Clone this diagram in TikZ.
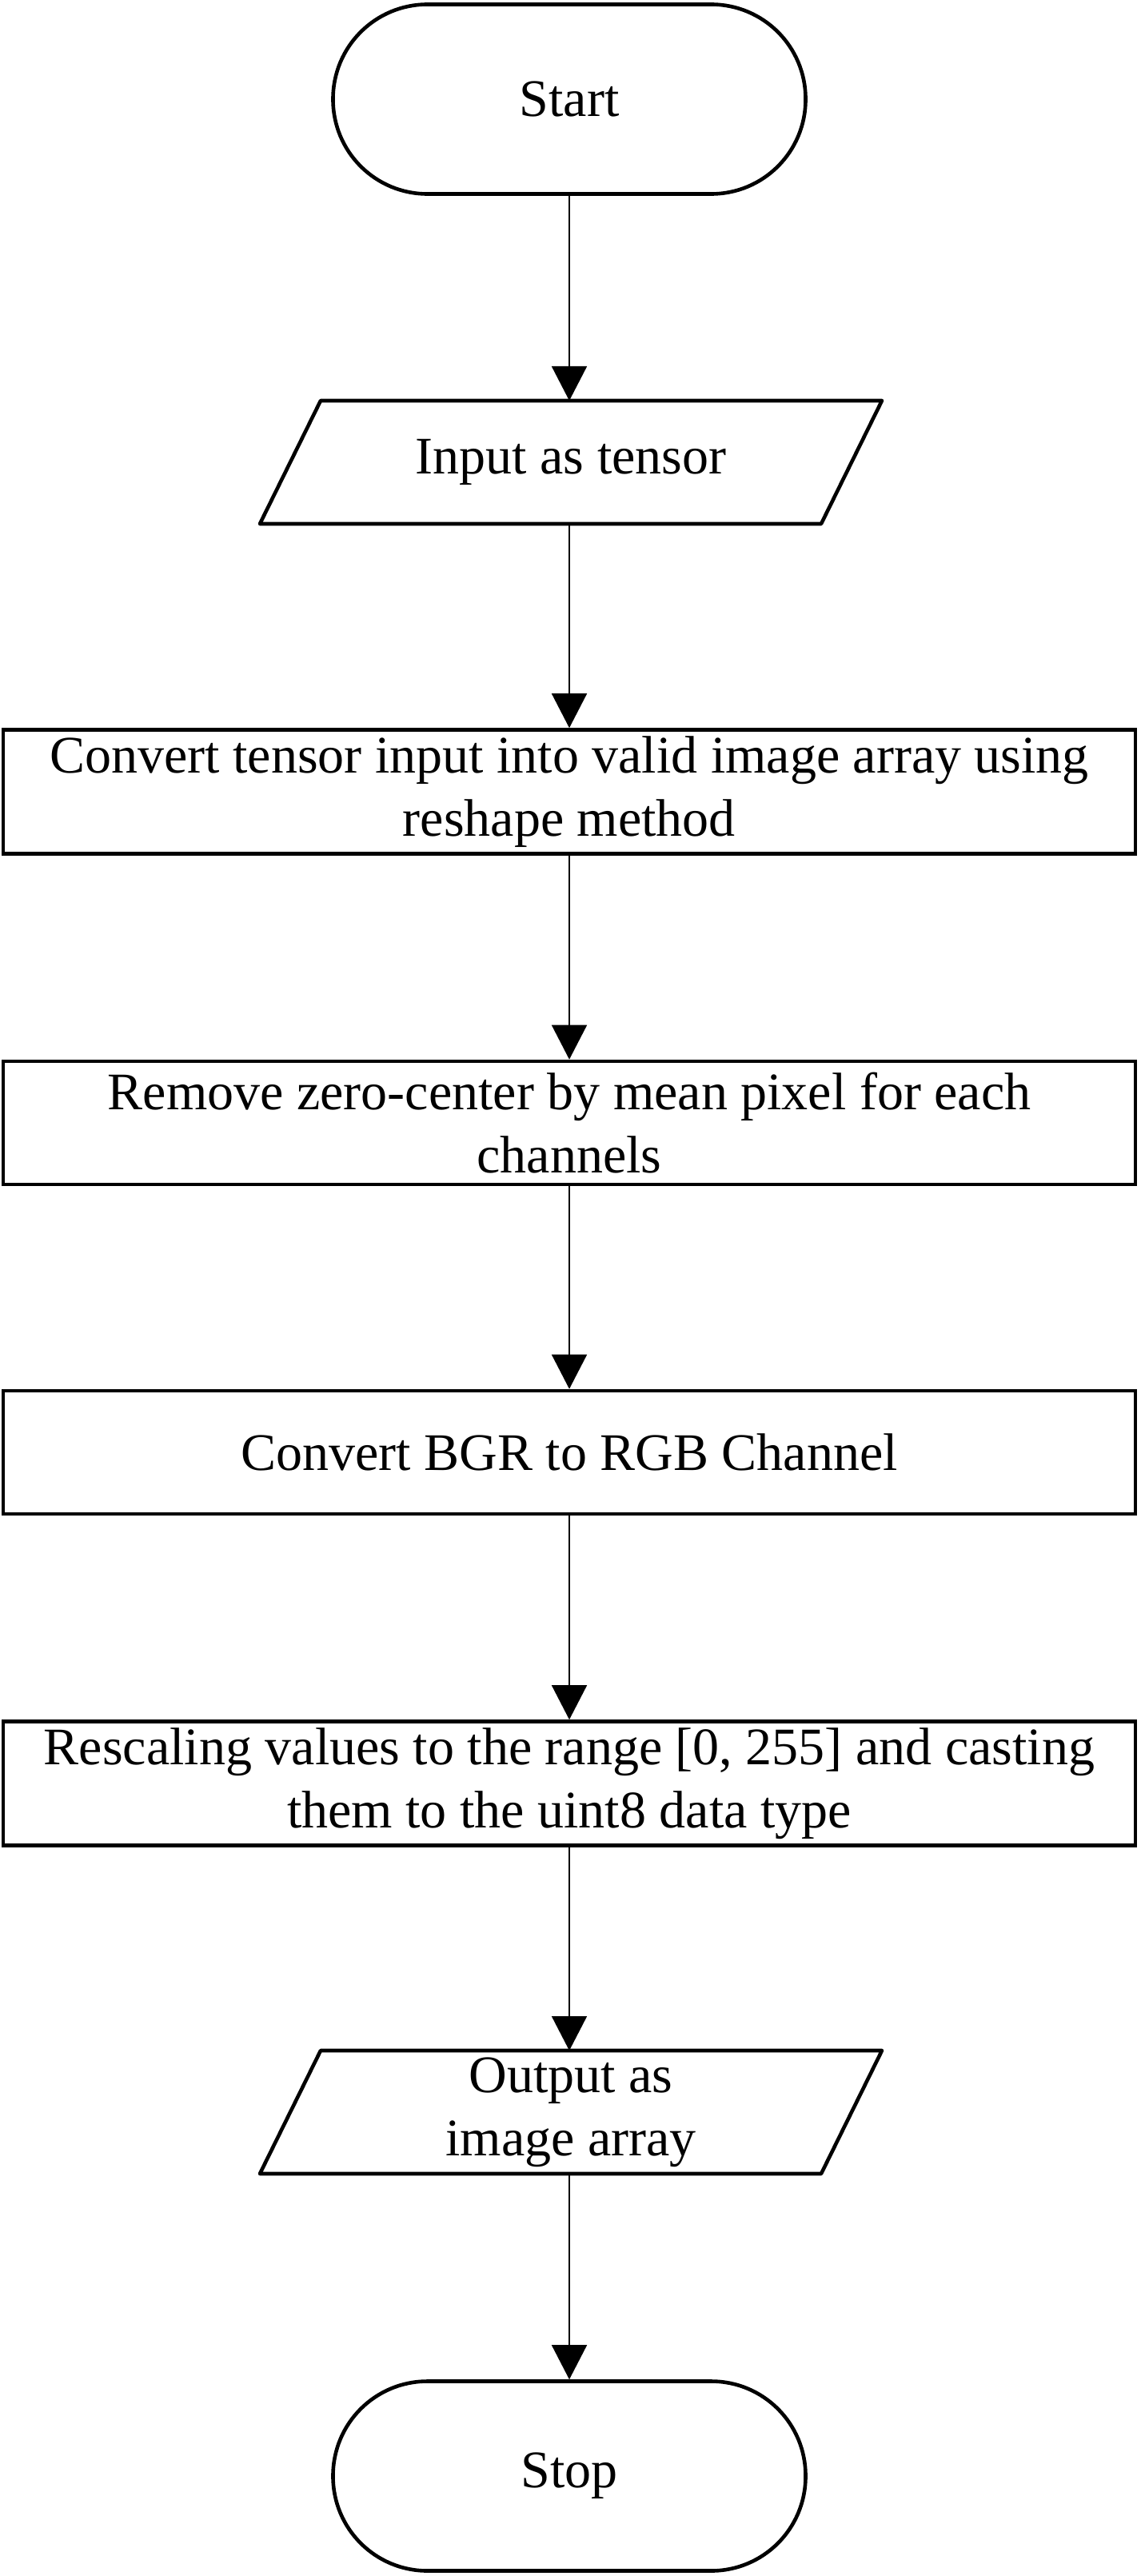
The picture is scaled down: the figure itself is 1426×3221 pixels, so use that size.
\documentclass[tikz,border=0pt]{standalone}
\usepackage{fontspec}
\setmainfont{Liberation Serif}
\usetikzlibrary{arrows.meta}

\begin{document}
\begin{tikzpicture}[x=0.25pt, y=-0.25pt,
        every node/.style={font=\fontsize{16.5pt}{19.75pt}\selectfont, align=center, line width=1.15pt},
        terminal/.style={draw, rectangle, rounded corners=29.5pt, minimum width=147.75pt, minimum height=59.25pt},
        inout/.style={rectangle, outer sep=0pt, inner ysep=0pt, minimum width=194.5pt, minimum height=38.5pt},
        process/.style={draw, rectangle, inner ysep=0pt, minimum width=354pt, minimum height=38.5pt},
        flow/.style={-{Triangle[length=10.75pt, width=11pt]}, line width=0.4pt}]
    \useasboundingbox (0,0) rectangle (1426,3221);
        \node[terminal] (start) at (712,124) {Start};
        \node[inout] (input) at (714,578) {Input as tensor};
        \node[process, minimum height=38.75pt] (convert) at (712,990) {Convert tensor input into valid image array using\\reshape method};
        \node[process] (zerocenter) at (712,1404) {Remove zero-center by mean pixel for each\\channels};
        \node[process] (bgrrgb) at (712,1816) {Convert BGR to RGB Channel};
        \node[process, minimum height=38.75pt] (rescale) at (712,2230) {Rescaling values to the range [0, 255] and casting\\them to the uint8 data type};
        \node[inout] (output) at (714,2641) {Output as\\image array};
        \node[terminal] (stop) at (712,3096) {Stop};

        \foreach \io in {input, output}
            \draw[line width=1.15pt, line join=round] ([xshift=19pt]\io.north west) -- (\io.north east)
                -- ([xshift=-19pt]\io.south east) -- (\io.south west) -- cycle;

        \draw[flow] (start.south) -- (start.south |- input.north);
        \draw[flow] (start.south |- input.south) -- (convert.north);
        \draw[flow] (convert.south) -- (zerocenter.north);
        \draw[flow] (zerocenter.south) -- (bgrrgb.north);
        \draw[flow] (bgrrgb.south) -- (rescale.north);
        \draw[flow] (rescale.south) -- (rescale.south |- output.north);
        \draw[flow] (rescale.south |- output.south) -- (stop.north);
\end{tikzpicture}
\end{document}
